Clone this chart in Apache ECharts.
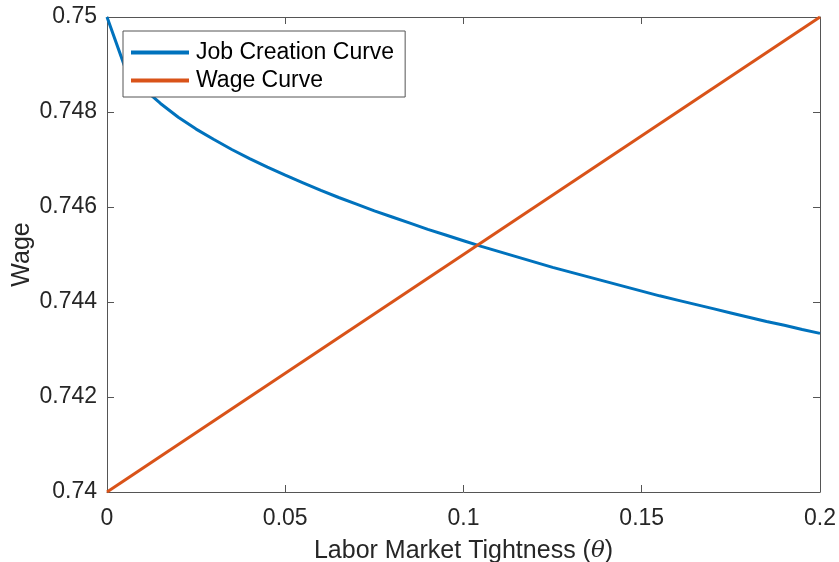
<!DOCTYPE html>
<html>
<head>
<meta charset="utf-8">
<script src="https://cdn.jsdelivr.net/npm/echarts@6/dist/echarts.min.js"></script>
<style>
html,body{margin:0;padding:0;background:#fff;}
#chart{width:839px;height:562px;}
</style>
</head>
<body>
<div id="chart"></div>
<script>
// ---- Data ----
const thetaValues = [0, 0.005, 0.01, 0.015, 0.02, 0.025, 0.03, 0.035, 0.04, 0.045,
  0.05, 0.055, 0.06, 0.065, 0.07, 0.075, 0.08, 0.085, 0.09, 0.095,
  0.1, 0.105, 0.11, 0.115, 0.12, 0.125, 0.13, 0.135, 0.14, 0.145,
  0.15, 0.155, 0.16, 0.165, 0.17, 0.175, 0.18, 0.185, 0.19, 0.195, 0.2];
const jobCreationValues = [0.75, 0.74895, 0.74851, 0.74818, 0.74789, 0.74764, 0.74742, 0.74721, 0.74702, 0.74684,
  0.74667, 0.74651, 0.74635, 0.7462, 0.74606, 0.74592, 0.74579, 0.74566, 0.74553, 0.74541,
  0.74529, 0.74517, 0.74506, 0.74495, 0.74484, 0.74473, 0.74463, 0.74453, 0.74443, 0.74433,
  0.74423, 0.74413, 0.74404, 0.74395, 0.74386, 0.74377, 0.74368, 0.74359, 0.74351, 0.74342, 0.74334];
const wageTheta = [0, 0.2];
const wageValues = [0.74, 0.75];
const seriesNames = ['Job Creation Curve', 'Wage Curve'];
const xTickLabels = ['0', '0.05', '0.1', '0.15', '0.2'];
const yTickLabels = ['0.74', '0.742', '0.744', '0.746', '0.748', '0.75'];
const xMin = 0, xMax = 0.2, xStep = 0.05;
const yMin = 0.74, yMax = 0.75, yStep = 0.002;

const jobData = thetaValues.map((t, i) => [t, jobCreationValues[i]]);
const wageData = wageTheta.map((t, i) => [t, wageValues[i]]);

const FONT = '"Liberation Sans", Arial, Helvetica, sans-serif';
const AXIS_COLOR = '#555555';
const LABEL_COLOR = '#262626';

function xFmt(v) { return xTickLabels[Math.round((v - xMin) / xStep)] || ''; }
function yFmt(v) { return yTickLabels[Math.round((v - yMin) / yStep)] || ''; }

const baseAxisLine = { show: true, onZero: false, lineStyle: { color: AXIS_COLOR, width: 1 } };
const baseTick = { show: true, inside: true, length: 7, lineStyle: { color: AXIS_COLOR, width: 1 } };

const chart = echarts.init(document.getElementById('chart'), null, { renderer: 'canvas' });
chart.setOption({
  animation: false,
  backgroundColor: '#ffffff',
  grid: { left: 107, right: 19, top: 17, bottom: 70, containLabel: false, outerBoundsMode: 'none' },
  legend: {
    orient: 'vertical',
    left: 123, top: 31,
    padding: [10, 11, 5, 8],
    itemGap: 5,
    itemWidth: 58, itemHeight: 4,
    icon: 'rect',
    backgroundColor: '#ffffff',
    borderColor: '#555555', borderWidth: 1,
    textStyle: { fontFamily: FONT, fontSize: 23, color: '#000', lineHeight: 23, padding: [0, 0, 0, 2] },
    data: seriesNames
  },
  xAxis: [{
    type: 'value', position: 'bottom', min: xMin, max: xMax, interval: xStep,
    axisLine: baseAxisLine, axisTick: baseTick, splitLine: { show: false },
    axisLabel: { formatter: xFmt, fontFamily: FONT, fontSize: 23, color: LABEL_COLOR, margin: 15 },
    name: 'Labor Market Tightness ({i|θ})',
    nameLocation: 'middle', nameGap: 47,
    nameTextStyle: {
      fontFamily: FONT, fontSize: 25, color: LABEL_COLOR,
      rich: { i: { fontFamily: '"DejaVu Serif", "Liberation Serif", serif', fontStyle: 'italic', fontSize: 23, color: LABEL_COLOR } }
    }
  }, {
    type: 'value', position: 'top', min: xMin, max: xMax, interval: xStep,
    axisLine: baseAxisLine, axisTick: baseTick, splitLine: { show: false },
    axisLabel: { show: false }
  }],
  yAxis: [{
    type: 'value', position: 'left', min: yMin, max: yMax, interval: yStep,
    axisLine: baseAxisLine, axisTick: baseTick, splitLine: { show: false },
    axisLabel: { formatter: yFmt, fontFamily: FONT, fontSize: 23, color: LABEL_COLOR, margin: 10 },
    name: 'Wage', nameLocation: 'middle', nameGap: 72, nameMoveOverlap: false,
    nameTextStyle: { fontFamily: FONT, fontSize: 25, color: LABEL_COLOR }
  }, {
    type: 'value', position: 'right', min: yMin, max: yMax, interval: yStep,
    axisLine: baseAxisLine, axisTick: baseTick, splitLine: { show: false },
    axisLabel: { show: false }
  }],
  series: [{
    name: seriesNames[0], type: 'line', xAxisIndex: 0, yAxisIndex: 0,
    data: jobData, showSymbol: false, symbol: 'none', clip: false,
    lineStyle: { color: '#0072BD', width: 3 }, itemStyle: { color: '#0072BD' }
  }, {
    name: seriesNames[1], type: 'line', xAxisIndex: 0, yAxisIndex: 0,
    data: wageData, showSymbol: false, symbol: 'none', clip: false,
    lineStyle: { color: '#D95319', width: 3 }, itemStyle: { color: '#D95319' }
  }]
});
</script>
</body>
</html>
